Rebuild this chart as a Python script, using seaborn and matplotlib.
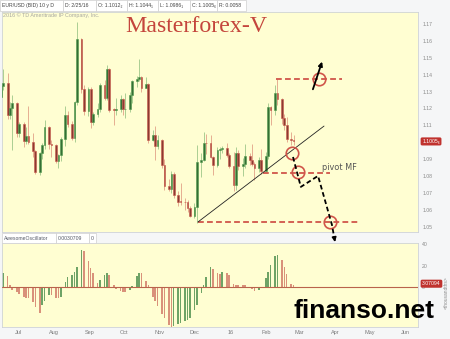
import numpy as np
import pandas as pd
import matplotlib
matplotlib.use("Agg")
import matplotlib.pyplot as plt
import matplotlib.dates as mdates
import matplotlib.transforms as mtransforms
from matplotlib.patches import Rectangle
import seaborn as sns

sns.set_theme(style="white")
plt.rcParams["font.family"] = ["Liberation Sans", "DejaVu Sans"]

# ---------------- data ----------------
prev_close = 1.1265
close_px = [1.1332, 1.1349, 1.1163, 1.1202, 1.1235, 1.1055, 1.1110, 1.1009, 1.1040, 1.1003,
            1.0951, 1.0827, 1.0938, 1.0982, 1.1088, 1.0987, 1.0985, 1.0892, 1.0922, 1.1018,
            1.1162, 1.1108, 1.1023, 1.1240, 1.1610, 1.1315, 1.1184, 1.1314, 1.1120, 1.1168,
            1.1194, 1.1338, 1.1262, 1.1435, 1.1191, 1.1190, 1.1195, 1.1254, 1.1194, 1.1199,
            1.1278, 1.1360, 1.1374, 1.1384, 1.1324, 1.1344, 1.1014, 1.1045, 1.0980, 1.1014,
            1.0866, 1.0741, 1.0721, 1.0812, 1.0689, 1.0648, 1.0646, 1.0645, 1.0612, 1.0565,
            1.0614, 1.0881, 1.0895, 1.0994, 1.0993, 1.0912, 1.0867, 1.0952, 1.0963, 1.0967,
            1.0927, 1.0858, 1.0747, 1.0935, 1.0857, 1.0873, 1.0917, 1.0893, 1.0872, 1.0848,
            1.0894, 1.0830, 1.0917, 1.1207, 1.1193, 1.1289, 1.1255, 1.1145, 1.1105, 1.1021,
            1.1012, 1.1005]
high_px = [1.1335, 1.1436, 1.1410, 1.1240, 1.1280, 1.1240, 1.1120, 1.1120, 1.1090, 1.1215,
           1.1055, 1.0955, 1.0945, 1.0995, 1.1130, 1.1095, 1.1015, 1.0990, 1.0930, 1.1030,
           1.1214, 1.1185, 1.1125, 1.1245, 1.1714, 1.1620, 1.1340, 1.1330, 1.1330, 1.1180,
           1.1230, 1.1350, 1.1370, 1.1460, 1.1440, 1.1200, 1.1260, 1.1280, 1.1260, 1.1290,
           1.1300, 1.1370, 1.1395, 1.1495, 1.1390, 1.1385, 1.1350, 1.1070, 1.1095, 1.1045,
           1.1020, 1.0900, 1.0780, 1.0830, 1.0825, 1.0710, 1.0760, 1.0670, 1.0660, 1.0625,
           1.0640, 1.0981, 1.0935, 1.1060, 1.1050, 1.1045, 1.0920, 1.0970, 1.0970, 1.0980,
           1.0995, 1.0935, 1.0945, 1.0970, 1.0955, 1.0905, 1.0990, 1.0935, 1.0990, 1.0885,
           1.0910, 1.0960, 1.0940, 1.1235, 1.1215, 1.1340, 1.1376, 1.1260, 1.1165, 1.1150,
           1.1060, 1.1044]
low_px = [1.1210, 1.1310, 1.1135, 1.1135, 1.0955, 1.1030, 1.1030, 1.0970, 1.0990, 1.0990,
          1.0915, 1.0810, 1.0808, 1.0900, 1.0960, 1.0960, 1.0915, 1.0880, 1.0848, 1.0890,
          1.0980, 1.1090, 1.1015, 1.1000, 1.1220, 1.1290, 1.1160, 1.1155, 1.1087, 1.1100,
          1.1150, 1.1180, 1.1250, 1.1250, 1.1180, 1.1105, 1.1160, 1.1180, 1.1160, 1.1145,
          1.1180, 1.1230, 1.1330, 1.1360, 1.1300, 1.1320, 1.0995, 1.1005, 1.0897, 1.0960,
          1.0850, 1.0720, 1.0710, 1.0700, 1.0670, 1.0620, 1.0630, 1.0600, 1.0590, 1.0558,
          1.0550, 1.0524, 1.0795, 1.0890, 1.0930, 1.0905, 1.0805, 1.0855, 1.0900, 1.0935,
          1.0915, 1.0850, 1.0711, 1.0720, 1.0835, 1.0800, 1.0850, 1.0865, 1.0860, 1.0778,
          1.0825, 1.0810, 1.0830, 1.0900, 1.1100, 1.1160, 1.1220, 1.1110, 1.1070, 1.1000,
          1.0985, 1.0986]
ao_vals = [12, 13, 10, 2, -3, -5, -7, -9, -10, -10,
           -14, -19, -24, -17, -13, -8, -8, -10, -10, -9,
           5, 9, 11, 14, 19, 35, 34, 24, 18, 13,
           4, 7, 11, 13, 11, 2, -2, -4, -5, -5,
           -3, 1, 10, 13, 13, 6, 2, -9, -13, -18,
           -25, -29, -36, -38, -37, -35, -34, -32, -31, -29,
           -22, -17, -6, 2, 9, 19, 17, 13, 12, 14,
           13, 11, 3, 2, 2, 2, 2, 0, -2, -4,
           -3, -1, 8, 14, 21, 29, 30, 25, 19, 12,
           3, 2]
month_ticks = ["2015-07-01", "2015-08-01", "2015-09-01", "2015-10-01", "2015-11-01", "2015-12-01",
               "2016-01-01", "2016-02-01", "2016-03-01", "2016-04-01", "2016-05-01", "2016-06-01"]
month_labels = ["Jul", "Aug", "Sep", "Oct", "Nov", "Dec", "16", "Feb", "Mar", "Apr", "May", "Jun"]
price_ticks = [1.05, 1.06, 1.07, 1.08, 1.09, 1.11, 1.12, 1.13, 1.14, 1.15, 1.16, 1.17]
ao_ticks = [0, 20, 40]
last_price = 1.1005
last_ao = 3.07094

dates = pd.bdate_range("2015-06-16", "2016-02-25", freq="2B")
n = min(len(dates), len(close_px))
open_px = [prev_close] + close_px[:-1]
df = pd.DataFrame({
    "x": mdates.date2num(dates[:n]),
    "open": open_px[:n], "high": high_px[:n], "low": low_px[:n], "close": close_px[:n],
    "ao": ao_vals[:n],
})
df["up"] = df["close"] >= df["open"]
df["ao_up"] = df["ao"].diff().fillna(1) > 0


def T(s):
    return mdates.date2num(pd.Timestamp(s))


# ---------------- figure / layout ----------------
W, H = 450, 339
fig = plt.figure(figsize=(W / 100, H / 100), dpi=100)
fig.patch.set_facecolor("#f5f6f7")


def px_axes(x0, y0, x1, y1):
    return fig.add_axes([x0 / W, 1 - y1 / H, (x1 - x0) / W, (y1 - y0) / H])


ax = px_axes(2, 12, 418, 232)
ao = px_axes(2, 243, 418, 327)
YEL = "#fffed2"
xmin, xmax = T("2015-06-17 02:00"), T("2016-06-11 22:00")
for a in (ax, ao):
    a.set_facecolor(YEL)
    for s in a.spines.values():
        s.set_color("#cfd3d6")
        s.set_linewidth(0.6)
    a.yaxis.tick_right()
    a.tick_params(axis="y", length=0, labelsize=3.7, labelcolor="#8a8a8a", pad=3)
    a.tick_params(axis="x", length=0)
    a.set_xlim(xmin, xmax)
    a.grid(False)

# ---------------- candles ----------------
up_edge, dn_edge = "#4f9a4c", "#c9574a"
up_fill, dn_fill = "#356f35", "#8c3a32"
edges = np.where(df["up"], up_edge, dn_edge)
fills = np.where(df["up"], up_fill, dn_fill)
ax.vlines(df["x"], df["low"], df["high"], colors=edges, lw=0.55, alpha=0.6, zorder=2)
body_lo = np.minimum(df["open"], df["close"])
body_h = np.maximum(np.abs(df["close"] - df["open"]), 0.0004)
ax.bar(df["x"], body_h, bottom=body_lo, width=1.5, color=fills, edgecolor=edges,
       linewidth=0.4, zorder=3)
ax.set_ylim(1.0469, 1.1771)
ax.set_yticks(price_ticks)
ax.set_yticklabels([f"{v:.2f}" for v in price_ticks])
ax.set_xticks([T(m) for m in month_ticks])
ax.set_xticklabels([])

# ---------------- annotations on price chart ----------------
RED = "#d0554a"
dash = (0, (3.2, 1.8))
ax.plot([T("2016-02-10"), T("2016-04-07")], [1.1375, 1.1375], color=RED, lw=1.3, ls=dash, zorder=4)
ax.plot([T("2016-01-29 12:00"), T("2016-03-27 14:00")], [1.0818, 1.0818], color=RED, lw=1.3, ls=dash, zorder=4)
ax.plot([T("2015-12-04"), T("2016-04-21")], [1.0528, 1.0528], color=RED, lw=1.3, ls=dash, zorder=4)
sns.lineplot(x=[T("2015-12-04"), T("2016-03-22 10:00")], y=[1.0528, 1.1096], ax=ax,
             color="#222222", lw=0.6, zorder=4)
for cx, cy in [("2016-03-18", 1.1375), ("2016-02-28 19:00", 1.0824),
               ("2016-02-23 14:00", 1.0937), ("2016-03-27 14:00", 1.0528)]:
    ax.plot([T(cx)], [cy], marker="o", ms=9, mfc="none", mec=RED, mew=1.2, zorder=6)

ax.annotate("", xy=(T("2016-03-21 12:00"), 1.1493), xytext=(T("2016-03-12"), 1.1298),
            arrowprops=dict(arrowstyle="-|>", color="black", lw=1.3, mutation_scale=6), zorder=7)
path_x = [T("2016-02-24 12:00"), T("2016-03-02 07:00"), T("2016-03-17 05:00"),
          T("2016-03-29 07:00"), T("2016-03-31 10:00")]
path_y = [1.0913, 1.0736, 1.0801, 1.0511, 1.0430]
ax.plot(path_x, path_y, color="black", lw=1.3, ls=(0, (2.6, 1.6)), zorder=7, clip_on=False)
ax.annotate("", xy=(T("2016-03-31 22:00"), 1.0410), xytext=(T("2016-03-31 04:00"), 1.0440),
            arrowprops=dict(arrowstyle="-|>", color="black", lw=1.2, mutation_scale=6),
            annotation_clip=False, zorder=7)
ax.text(T("2016-03-20 17:00"), 1.0848, "pivot MF", fontsize=5.9, color="#555555",
        family=["DejaVu Sans"], va="center", ha="left", zorder=7)

tr = mtransforms.blended_transform_factory(ax.transAxes, ax.transData)
ax.text(1.01, last_price, "1.1005\u2086", transform=tr, fontsize=3.7, color="white",
        va="center", ha="left", clip_on=False,
        bbox=dict(boxstyle="round,pad=0.3", fc="#c0322e", ec="none"))

# ---------------- Awesome Oscillator ----------------
ao.bar(df["x"], df["ao"], width=1.4, color=np.where(df["ao_up"], "#6ea366", "#d9917a"),
       linewidth=0, zorder=2)
ao.axhline(0, color="#b9634c", lw=0.8, zorder=3)
ao.set_ylim(-37.6, 41.3)
ao.set_yticks(ao_ticks)
ao.set_yticklabels([str(v) for v in ao_ticks])
ao.set_xticks([T(m) for m in month_ticks])
ao.set_xticklabels(month_labels, fontsize=4, color="#7a7a7a")
ao.tick_params(axis="x", pad=2)
tr2 = mtransforms.blended_transform_factory(ao.transAxes, ao.transData)
ao.text(1.01, last_ao, "3.07094", transform=tr2, fontsize=3.7, color="white",
        va="center", ha="left", clip_on=False,
        bbox=dict(boxstyle="round,pad=0.3", fc="#c0322e", ec="none"))

# ---------------- overlay (header, titles, watermark) ----------------
ov = fig.add_axes([0, 0, 1, 1])
ov.set_xlim(0, W)
ov.set_ylim(H, 0)
ov.axis("off")
ov.patch.set_alpha(0)
ov.set_zorder(10)


def header(segments, y0, y1, color):
    for x0, x1, txt in segments:
        ov.add_patch(Rectangle((x0, y0), x1 - x0, y1 - y0, fc="white", ec="#cfcfcf", lw=0.5))
        ov.text(x0 + 2, (y0 + y1) / 2 + 0.3, txt, fontsize=3.7, color=color, va="center", ha="left")


header([(0, 63, "EUR/USD (BID) 10 y D"), (63, 96, "D: 2/25/16"), (96, 127, "O: 1.1012\u2082"),
        (127, 158, "H: 1.1044\u2081"), (158, 190, "L: 1.0986\u2081"), (190, 217, "C: 1.1005\u2086"),
        (217, 246, "R: 0.0058")], 0, 10.5, "#444444")
header([(2, 56, "AwesomeOscillator"), (56, 89, "0.0030709"), (89, 96, "0")], 233, 243, "#555a66")

ov.text(3, 15.5, "2016 \u00a9 TD Ameritrade IP Company, Inc.", fontsize=3.9, color="#a8a8a0",
        va="center", ha="left")
ov.text(196.5, 32, "Masterforex-V", fontsize=17.2, color="#c4453c",
        family=["Liberation Serif", "DejaVu Serif"], ha="center", va="baseline")
ov.text(364, 311, "finanso.net", fontsize=19, fontweight="bold", color="black",
        family=["Liberation Sans", "DejaVu Sans"], ha="center", va="center")
ov.text(446, 293, "<thousandths>", fontsize=3.5, color="#8a8a8a", rotation=90,
        ha="center", va="center")

fig.savefig("out.png", dpi=100, facecolor=fig.get_facecolor())
